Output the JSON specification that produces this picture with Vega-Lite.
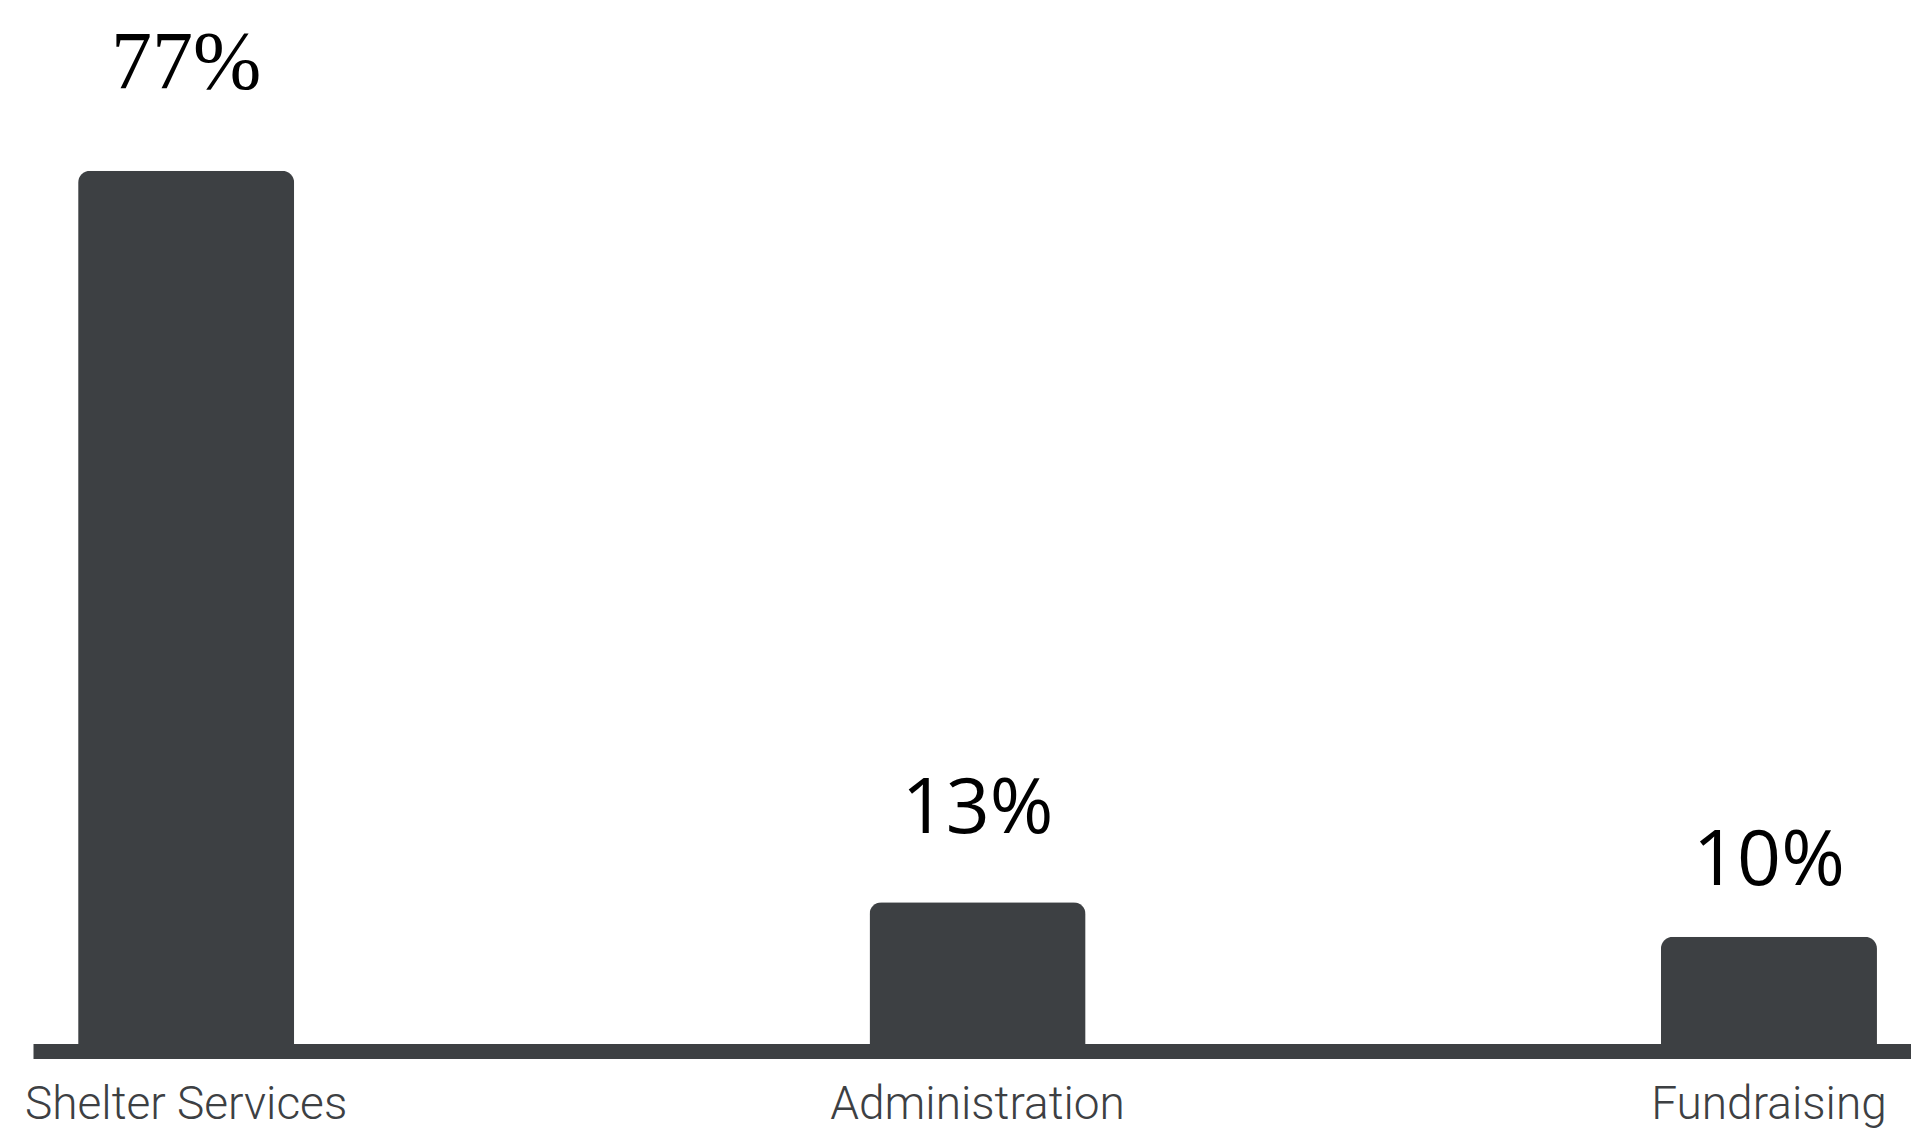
{
  "$schema": "https://vega.github.io/schema/vega-lite/v6.json",
  "autosize": "none",
  "width": 1878,
  "height": 1029,
  "padding": {"left": 33, "top": 22, "right": 0, "bottom": 86},
  "background": "white",
  "data": {
    "values": [
      {"category": "Shelter Services", "value": 77, "label": "77%"},
      {"category": "Administration", "value": 13, "label": "13%"},
      {"category": "Fundraising", "value": 10, "label": "10%"}
    ]
  },
  "encoding": {
    "x": {
      "field": "category",
      "type": "nominal",
      "sort": null,
      "scale": {"paddingInner": 0.727, "paddingOuter": 0.05, "align": 0.57},
      "axis": {
        "title": null,
        "ticks": false,
        "labelAngle": 0,
        "labelFont": "Roboto",
        "labelFontWeight": 300,
        "labelFontSize": 46,
        "labelColor": "#3d4043",
        "labelBaseline": "alphabetic",
        "labelPadding": 67,
        "labelLimit": 0,
        "labelOverlap": false,
        "labelBound": false,
        "labelFlush": false,
        "domainColor": "#3d4043",
        "domainWidth": 15,
        "domainCap": "butt"
      }
    },
    "y": {
      "field": "value",
      "type": "quantitative",
      "scale": {"domain": [0, 90], "nice": false},
      "axis": null
    }
  },
  "layer": [
    {
      "mark": {
        "type": "bar",
        "color": "#3d4043",
        "cornerRadiusTopLeft": 12,
        "cornerRadiusTopRight": 12
      }
    },
    {
      "mark": {
        "type": "text",
        "baseline": "alphabetic",
        "align": "center",
        "color": "#000000",
        "font": {"expr": "datum.category == 'Shelter Services' ? 'Liberation Serif' : 'Open Sans'"},
        "fontSize": {"expr": "datum.category == 'Shelter Services' ? 82 : 77"},
        "dy": {"expr": "datum.category == 'Shelter Services' ? -83 : (datum.category == 'Administration' ? -69 : -52)"}
      },
      "encoding": {"text": {"field": "label"}}
    }
  ],
  "config": {"view": {"stroke": null}}
}
